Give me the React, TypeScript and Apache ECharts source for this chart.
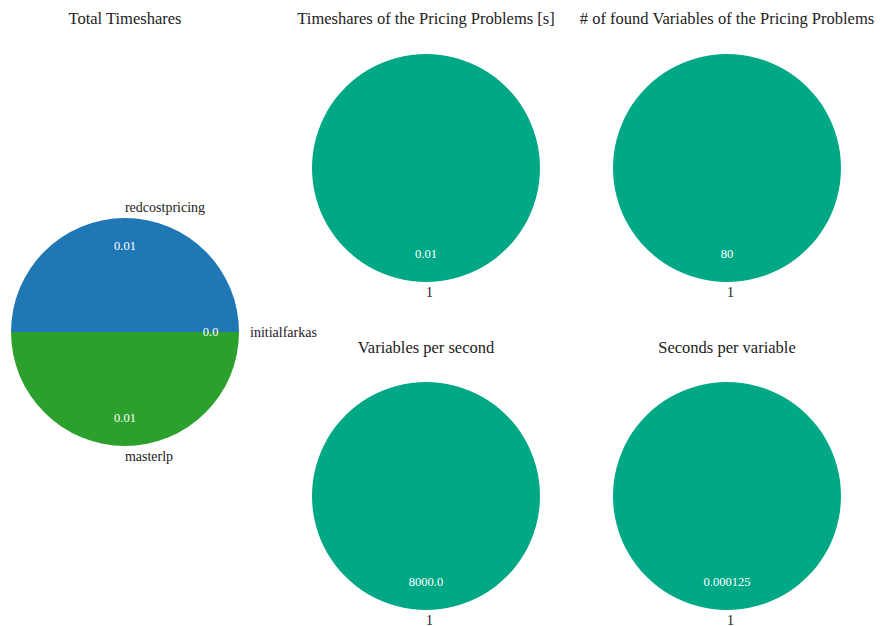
import React, { useEffect, useRef } from "react";
import * as echarts from "echarts";

// ---- data ----
const totalNames = ["redcostpricing", "initialfarkas", "masterlp"];
const totalValues = [0.01, 0.0, 0.01];
const totalColors = ["#1f77b4", "#ff7f0e", "#2ca02c"];

const pricingNames = ["1"];
const pricingTimes = [0.01];
const foundVariables = [80];
const varsPerSecond = [8000.0];
const secondsPerVar = [0.000125];

const titles = [
  "Total Timeshares",
  "Timeshares of the Pricing Problems [s]",
  "# of found Variables of the Pricing Problems",
  "Variables per second",
  "Seconds per variable",
];

const FONT = "'Liberation Serif', 'DejaVu Serif', serif";
const NAME_SIZE = 14;
const TEAL = "#00a886";

function fmtFloat(v: number): string {
  return Number.isInteger(v) ? v.toFixed(1) : String(v);
}
function fmtInt(v: number): string {
  return String(v);
}

let measureCtx: CanvasRenderingContext2D | null = null;
function textWidth(s: string, size: number): number {
  if (!measureCtx) measureCtx = document.createElement("canvas").getContext("2d");
  if (!measureCtx) return s.length * size * 0.5;
  measureCtx.font = `${size}px 'Liberation Serif', 'DejaVu Serif', serif`;
  return measureCtx.measureText(s).width;
}

function pieSeries(
  id: string,
  center: [number, number],
  r: number,
  names: string[],
  values: number[],
  colors: string[],
  startAngle: number,
  fmt: (v: number) => string
): any[] {
  const base = {
    type: "pie",
    center,
    startAngle,
    clockwise: true,
    avoidLabelOverlap: false,
    animation: false,
    emphasis: { disabled: true },
    labelLine: { show: false },
    silent: true,
  };
  return [
    {
      ...base,
      id: id + "-main",
      radius: [0, r],
      itemStyle: { borderWidth: 0 },
      label: { show: false },
      data: names.map((n, i) => ({
        name: n,
        value: values[i],
        itemStyle: { color: colors[i % colors.length] },
      })),
    },
    {
      ...base,
      id: id + "-values",
      radius: [r * 0.45, r],
      itemStyle: { color: "rgba(0,0,0,0)", borderWidth: 0 },
      label: {
        show: true,
        position: "inside",
        color: "#ffffff",
        fontFamily: FONT,
        fontSize: 12.5,
        formatter: (p: any) => fmt(p.value),
      },
      data: names.map((n, i) => ({ name: n, value: values[i] })),
    },
    {
      ...base,
      id: id + "-names",
      radius: [r, r * 1.14],
      itemStyle: { color: "rgba(0,0,0,0)", borderWidth: 0 },
      label: {
        show: true,
        position: "inside",
        color: "#222222",
        fontFamily: FONT,
        fontSize: NAME_SIZE,
        formatter: (p: any) => p.name,
      },
      data: names.map((n, i) => ({
        name: n,
        value: values[i],
        label: { padding: [0, 0, 0, Math.round(textWidth(n, NAME_SIZE))] },
      })),
    },
  ];
}

export default function App() {
  const ref = useRef<HTMLDivElement>(null);
  useEffect(() => {
    if (!ref.current) return;
    const chart = echarts.init(ref.current, undefined, { renderer: "svg" });
    const R = 114;
    const centers: [number, number][] = [
      [125, 332],
      [426, 168],
      [727, 168],
      [426, 496],
      [727, 496],
    ];
    const titlePos: [number, number][] = [
      [125, 10],
      [426, 10],
      [727, 10],
      [426, 339],
      [727, 339],
    ];
    const option: any = {
      animation: false,
      backgroundColor: "#ffffff",
      title: titles.map((t, i) => ({
        text: t,
        left: titlePos[i][0],
        top: titlePos[i][1],
        textAlign: "center",
        padding: 0,
        textStyle: {
          fontFamily: FONT,
          fontSize: 16.5,
          fontWeight: "normal",
          color: "#222222",
        },
      })),
      series: [
        ...pieSeries("total", centers[0], R, totalNames, totalValues, totalColors, 180, fmtFloat),
        ...pieSeries("times", centers[1], R, pricingNames, pricingTimes, [TEAL], 90, fmtFloat),
        ...pieSeries("found", centers[2], R, pricingNames, foundVariables, [TEAL], 90, fmtInt),
        ...pieSeries("vps", centers[3], R, pricingNames, varsPerSecond, [TEAL], 90, fmtFloat),
        ...pieSeries("spv", centers[4], R, pricingNames, secondsPerVar, [TEAL], 90, fmtFloat),
      ],
    };
    chart.setOption(option);
    return () => chart.dispose();
  }, []);
  return (
    <div
      ref={ref}
      style={{ position: "fixed", left: 0, top: 0, width: 880, height: 626 }}
    />
  );
}
